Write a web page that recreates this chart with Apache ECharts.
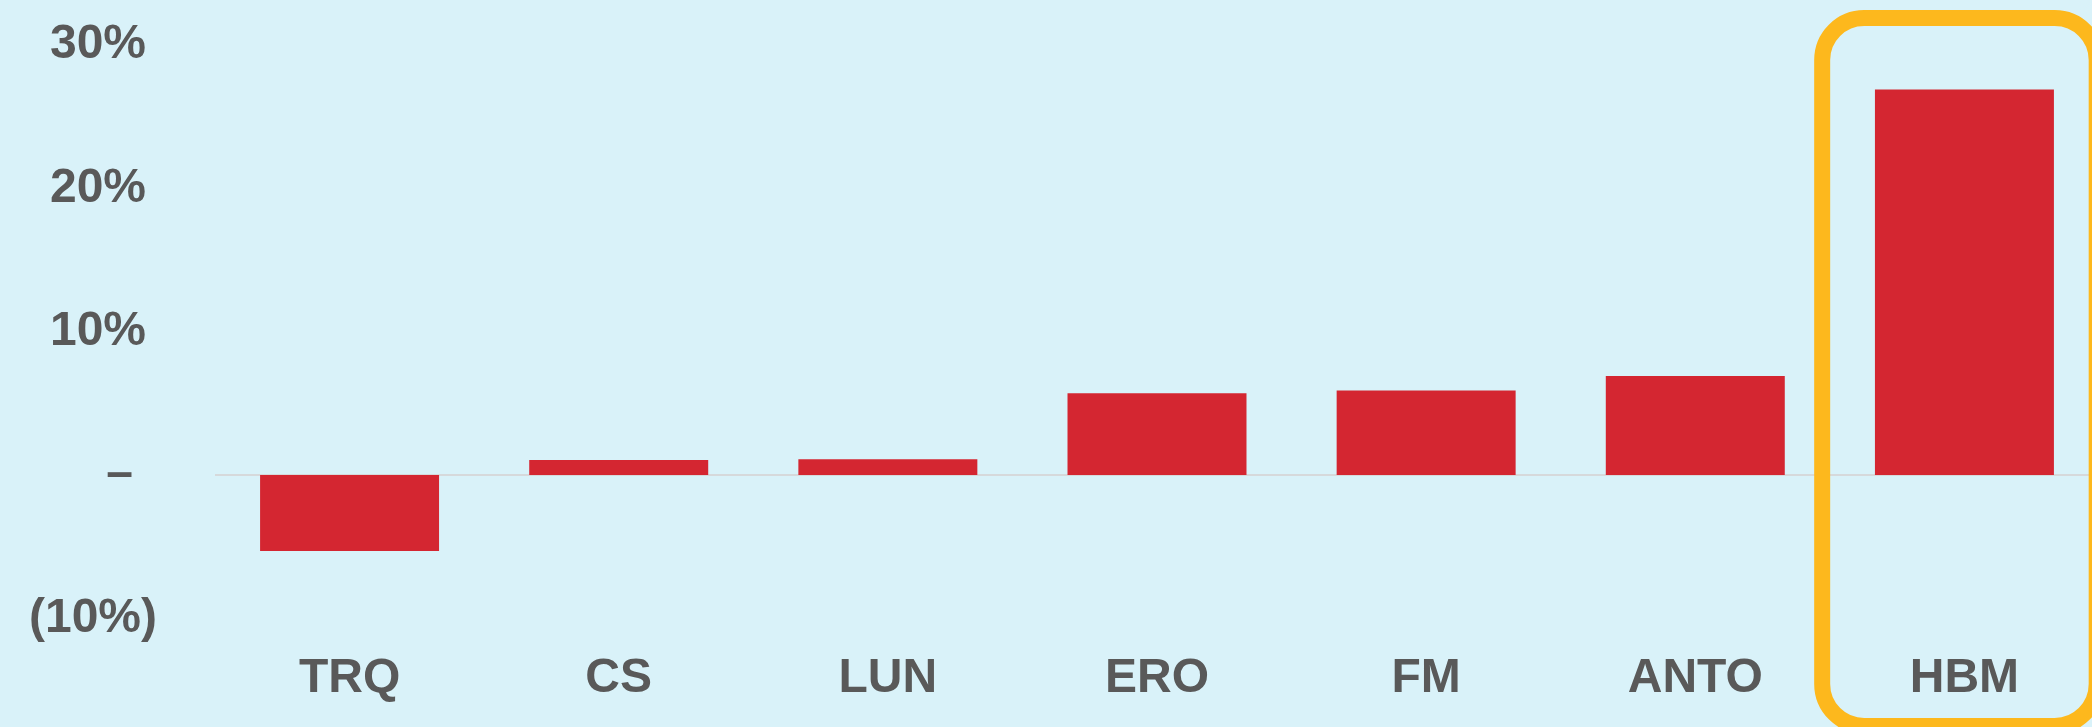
<!DOCTYPE html>
<html>
<head>
<meta charset="utf-8">
<script src="https://cdn.jsdelivr.net/npm/echarts@6/dist/echarts.min.js"></script>
<style>
html,body{margin:0;padding:0;background:#D9F2F9;}
#c{width:2092px;height:727px;}
</style>
</head>
<body>
<div id="c"></div>
<script>
var categories = ['TRQ', 'CS', 'LUN', 'ERO', 'FM', 'ANTO', 'HBM'];
var values = [-5.3, 1.05, 1.1, 5.7, 5.9, 6.9, 26.9];
var yTicks = [-10, 0, 10, 20, 30];
var highlightCategory = 'HBM';

var textColor = '#595959';
var font = 'Liberation Sans';

var chart = echarts.init(document.getElementById('c'));
chart.setOption({
  backgroundColor: '#D9F2F9',
  animation: false,
  grid: { left: 215, width: 1884, top: 45, bottom: 108.7, outerBoundsMode: 'none' },
  xAxis: {
    type: 'category',
    data: categories,
    axisLine: { show: false, onZero: false },
    axisTick: { show: false },
    axisLabel: {
      margin: 36,
      fontSize: 48,
      fontWeight: 'bold',
      fontFamily: font,
      color: textColor
    }
  },
  yAxis: {
    type: 'value',
    min: yTicks[0],
    max: yTicks[yTicks.length - 1],
    interval: 10,
    axisLine: { show: false },
    axisTick: { show: false },
    splitLine: {
      show: true,
      lineStyle: {
        width: 2,
        color: yTicks.map(function (t) { return t === 0 ? '#D6D9DB' : 'rgba(0,0,0,0)'; })
      }
    },
    axisLabel: {
      margin: 58,
      fontSize: 48,
      fontWeight: 'bold',
      fontFamily: font,
      color: textColor,
      formatter: function (v) {
        if (v < 0) return '{n|(' + Math.abs(v) + '%)}';
        if (v === 0) return '{n|\u2013}{z| }';
        return '{n|' + v + '%}{s| }';
      },
      rich: {
        n: { fontSize: 48, fontWeight: 'bold', fontFamily: font, color: textColor },
        s: { width: 11, fontSize: 48, fontFamily: font },
        z: { width: 24, fontSize: 48, fontFamily: font }
      }
    }
  },
  series: [{
    type: 'bar',
    data: values,
    barCategoryGap: '33.5%',
    itemStyle: { color: '#D42631' }
  }]
});

var cx = chart.convertToPixel({ xAxisIndex: 0 }, highlightCategory);
var boxW = 274.5;
chart.setOption({
  graphic: [{
    type: 'rect',
    shape: { x: cx - 5 - boxW / 2, y: 18, width: boxW, height: 708, r: 42 },
    style: { fill: 'none', stroke: '#FDB81D', lineWidth: 16 },
    z: 100
  }]
});
</script>
</body>
</html>
